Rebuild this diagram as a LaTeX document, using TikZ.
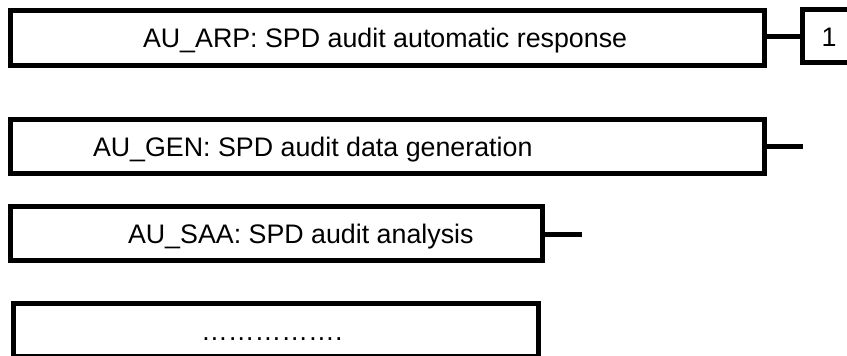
\documentclass[tikz,border=0pt]{standalone}
\usepackage{fontspec}
\setmainfont{Liberation Sans}
\newfontfamily\boxfont{Liberation Sans}
\begin{document}
\begin{tikzpicture}[x=1pt,y=1pt,
  boxr/.style={draw=black, line width=5pt, fill=white, rectangle, inner sep=0pt, outer sep=0pt},
  lbl/.style={inner sep=0pt, outer sep=0pt, anchor=base west, font=\boxfont\fontsize{26.8}{30}\selectfont},
  conn/.style={draw=black, line width=5pt}]
\useasboundingbox (0,0) rectangle (847,-356);
\clip (0,0) rectangle (847,-356);
\fill[white] (0,0) rectangle (847,-356);
% boxes
\node[boxr, minimum width=753.5pt, minimum height=55.5pt] (b1) at (387.25,-37.75) {};
\node[boxr, minimum width=53pt, minimum height=53pt] (one) at (829,-36) {};
\node[boxr, minimum width=754pt, minimum height=54pt] (b2) at (387.5,-146.5) {};
\node[boxr, minimum width=532pt, minimum height=54.5pt] (b3) at (276.5,-233.25) {};
\node[boxr, minimum width=525pt, minimum height=53pt] (b4) at (275.5,-329.5) {};
% labels
\node[lbl] (t1) at (143,-47.5) {AU\_ARP: SPD audit automatic response};
\node[lbl] (t1b) at (821.5,-46.5) {1};
\node[lbl] (t2) at (93,-156.5) {AU\_GEN: SPD audit data generation};
\node[lbl] (t3) at (128,-243) {AU\_SAA: SPD audit analysis};
\node[lbl] (t4) at (201,-340) {…………….};
% connectors
\coordinate (e2) at (803,-146.5);
\coordinate (e3) at (582,-234.5);
\draw[conn] (b1.east |- one.west) -- (one.west);
\draw[conn] (b2.east) -- (e2);
\draw[conn] (b3.east |- e3) -- (e3);
\end{tikzpicture}
\end{document}
